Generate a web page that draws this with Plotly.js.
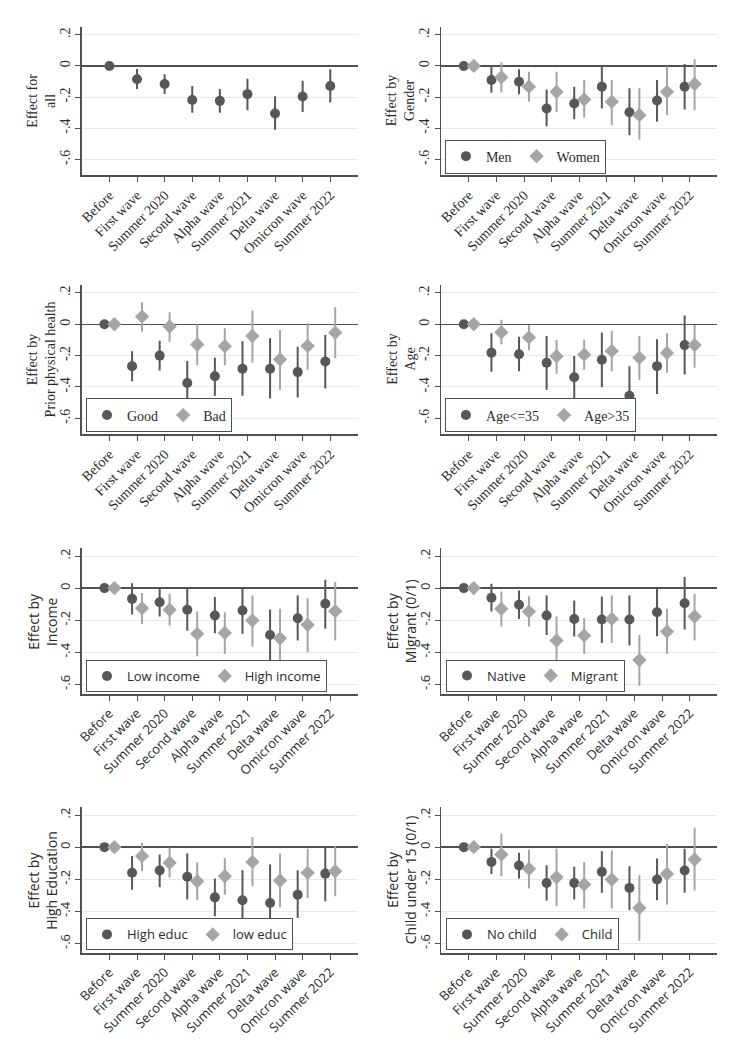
<!DOCTYPE html>
<html>
<head>
<meta charset="utf-8">
<script src="https://cdn.plot.ly/plotly-3.0.1.min.js"></script>
<style>
  html, body { margin: 0; padding: 0; background: #fff; }
  #chart { width: 744px; height: 1062px; }
</style>
</head>
<body>
<div id="chart"></div>
<script>
// categories and tick labels
const waves = ["Before", "First wave", "Summer 2020", "Second wave", "Alpha wave",
  "Summer 2021", "Delta wave", "Omicron wave", "Summer 2022"];
const yTickVals = [0.2, 0, -0.2, -0.4, -0.6];
const yTickText = [".2", "0", "-.2", "-.4", "-.6"];

// Effect for all
const allEst = [0, -0.086, -0.116, -0.219, -0.224, -0.181, -0.305, -0.196, -0.129];
const allLo  = [0, -0.148, -0.180, -0.301, -0.301, -0.284, -0.409, -0.295, -0.234];
const allHi  = [0, -0.020, -0.054, -0.129, -0.148, -0.082, -0.194, -0.095, -0.022];

// Gender
const menEst   = [0, -0.090, -0.101, -0.273, -0.241, -0.133, -0.297, -0.222, -0.133];
const menLo    = [0, -0.172, -0.181, -0.387, -0.342, -0.273, -0.445, -0.359, -0.280];
const menHi    = [0, 0.000, -0.022, -0.151, -0.133, 0.006, -0.144, -0.090, 0.013];
const womenEst = [0, -0.073, -0.133, -0.166, -0.215, -0.230, -0.316, -0.166, -0.116];
const womenLo  = [0, -0.170, -0.230, -0.295, -0.333, -0.381, -0.473, -0.316, -0.284];
const womenHi  = [0, 0.024, -0.037, -0.037, -0.090, -0.090, -0.144, -0.004, 0.043];

// Prior physical health
const goodEst = [0, -0.267, -0.200, -0.374, -0.331, -0.284, -0.284, -0.305, -0.237];
const goodLo  = [0, -0.363, -0.295, -0.510, -0.456, -0.456, -0.473, -0.467, -0.409];
const goodHi  = [0, -0.172, -0.105, -0.234, -0.213, -0.108, -0.090, -0.144, -0.069];
const badEst  = [0, 0.049, -0.015, -0.129, -0.140, -0.075, -0.224, -0.138, -0.054];
const badLo   = [0, -0.047, -0.112, -0.262, -0.262, -0.245, -0.417, -0.290, -0.215];
const badHi   = [0, 0.140, 0.077, 0.000, -0.026, 0.088, -0.037, 0.006, 0.110];

// Age
const youngEst = [0, -0.181, -0.191, -0.245, -0.338, -0.226, -0.456, -0.267, -0.133];
const youngLo  = [0, -0.303, -0.299, -0.417, -0.477, -0.402, -0.650, -0.445, -0.320];
const youngHi  = [0, -0.058, -0.080, -0.075, -0.202, -0.052, -0.267, -0.095, 0.056];
const oldEst   = [0, -0.052, -0.084, -0.204, -0.194, -0.170, -0.213, -0.183, -0.133];
const oldLo    = [0, -0.127, -0.166, -0.316, -0.290, -0.299, -0.355, -0.310, -0.277];
const oldHi    = [0, 0.028, -0.004, -0.101, -0.097, -0.041, -0.075, -0.058, -0.004];

// Income
const lowIncEst  = [0, -0.067, -0.088, -0.135, -0.171, -0.140, -0.292, -0.188, -0.098];
const lowIncLo   = [0, -0.165, -0.177, -0.265, -0.281, -0.285, -0.452, -0.327, -0.254];
const lowIncHi   = [0, 0.031, 0.006, -0.004, -0.056, 0.006, -0.133, -0.046, 0.052];
const highIncEst = [0, -0.125, -0.135, -0.285, -0.279, -0.202, -0.313, -0.229, -0.144];
const highIncLo  = [0, -0.223, -0.233, -0.425, -0.410, -0.365, -0.494, -0.400, -0.327];
const highIncHi  = [0, -0.031, -0.035, -0.146, -0.150, -0.046, -0.129, -0.063, 0.038];

// Migrant
const nativeEst  = [0, -0.060, -0.104, -0.171, -0.192, -0.196, -0.196, -0.150, -0.094];
const nativeLo   = [0, -0.146, -0.192, -0.292, -0.302, -0.342, -0.358, -0.300, -0.258];
const nativeHi   = [0, 0.027, -0.015, -0.046, -0.077, -0.052, -0.046, 0.000, 0.069];
const migrantEst = [0, -0.129, -0.146, -0.327, -0.296, -0.192, -0.448, -0.271, -0.177];
const migrantLo  = [0, -0.240, -0.240, -0.480, -0.410, -0.342, -0.608, -0.410, -0.327];
const migrantHi  = [0, -0.021, -0.050, -0.177, -0.188, -0.046, -0.290, -0.129, -0.035];

// High education
const hiEducEst = [0, -0.160, -0.146, -0.185, -0.313, -0.331, -0.348, -0.296, -0.165];
const hiEducLo  = [0, -0.265, -0.250, -0.327, -0.431, -0.520, -0.590, -0.442, -0.338];
const hiEducHi  = [0, -0.056, -0.046, -0.040, -0.196, -0.144, -0.108, -0.144, 0.006];
const loEducEst = [0, -0.056, -0.098, -0.213, -0.181, -0.092, -0.208, -0.160, -0.150];
const loEducLo  = [0, -0.150, -0.190, -0.331, -0.296, -0.244, -0.375, -0.317, -0.306];
const loEducHi  = [0, 0.027, -0.004, -0.094, -0.067, 0.063, -0.042, -0.010, 0.006];

// Child under 15
const noChildEst = [0, -0.092, -0.115, -0.223, -0.223, -0.154, -0.254, -0.202, -0.146];
const noChildLo  = [0, -0.167, -0.196, -0.333, -0.327, -0.285, -0.394, -0.331, -0.285];
const noChildHi  = [0, -0.010, -0.035, -0.113, -0.123, -0.025, -0.119, -0.071, -0.010];
const childEst   = [0, -0.046, -0.135, -0.188, -0.233, -0.202, -0.379, -0.167, -0.077];
const childLo    = [0, -0.181, -0.258, -0.369, -0.383, -0.383, -0.583, -0.358, -0.271];
const childHi    = [0, 0.083, -0.015, -0.010, -0.092, -0.021, -0.175, 0.021, 0.121];

const DARK = '#575757', LIGHT = '#a5a5a5', AXIS = '#505050', TEXT = '#2a2a2a';
const SERIF = 'Liberation Serif, Times New Roman, serif';
const SANS = 'Open Sans, Segoe UI, sans-serif';

// leg = [x, y centre] in paper units
const panels = [
  { title: 'Effect for<br>all', font: SERIF,
    groups: [{ name: 'All', est: allEst, lo: allLo, hi: allHi }] },
  { title: 'Effect by<br>Gender', font: SERIF, leg: [0.598, 0.8526],
    groups: [{ name: 'Men', est: menEst, lo: menLo, hi: menHi },
             { name: 'Women', est: womenEst, lo: womenLo, hi: womenHi }] },
  { title: 'Effect by<br>Prior physical health', font: SERIF, leg: [0.1156, 0.6088],
    groups: [{ name: 'Good', est: goodEst, lo: goodLo, hi: goodHi },
             { name: 'Bad', est: badEst, lo: badLo, hi: badHi }] },
  { title: 'Effect by<br>Age', font: SERIF, leg: [0.598, 0.6088],
    groups: [{ name: 'Age<=35', est: youngEst, lo: youngLo, hi: youngHi },
             { name: 'Age>35', est: oldEst, lo: oldLo, hi: oldHi }] },
  { title: 'Effect by<br>Income', font: SANS, leg: [0.1156, 0.3635],
    groups: [{ name: 'Low income', est: lowIncEst, lo: lowIncLo, hi: lowIncHi },
             { name: 'High income', est: highIncEst, lo: highIncLo, hi: highIncHi }] },
  { title: 'Effect by<br>Migrant (0/1)', font: SANS, leg: [0.5995, 0.3639],
    groups: [{ name: 'Native', est: nativeEst, lo: nativeLo, hi: nativeHi },
             { name: 'Migrant', est: migrantEst, lo: migrantLo, hi: migrantHi }] },
  { title: 'Effect by<br>High Education', font: SANS, leg: [0.1156, 0.1201],
    groups: [{ name: 'High educ', est: hiEducEst, lo: hiEducLo, hi: hiEducHi },
             { name: 'low educ', est: loEducEst, lo: loEducLo, hi: loEducHi }] },
  { title: 'Effect by<br>Child under 15 (0/1)', font: SANS, leg: [0.5995, 0.1201],
    groups: [{ name: 'No child', est: noChildEst, lo: noChildLo, hi: noChildHi },
             { name: 'Child', est: childEst, lo: childLo, hi: childHi }] }
];

const colX = [[0.110, 0.481], [0.593, 0.964]];
const rowY = [[0.8352, 0.9746], [0.5913, 0.7316], [0.3465, 0.4840], [0.1026, 0.2401]];

const traces = [];
const annotations = [];
const layout = {
  width: 744, height: 1062,
  margin: { l: 0, r: 0, t: 0, b: 0 },
  paper_bgcolor: '#fff', plot_bgcolor: '#fff',
  scattermode: 'group', scattergap: 0.28,
  showlegend: true,
  annotations: annotations
};

panels.forEach((p, k) => {
  const s = k === 0 ? '' : String(k + 1);
  const legId = k === 1 ? 'legend' : 'legend' + k;
  const top = k < 4;
  const fs = top ? 14 : 13;

  p.groups.forEach((g, j) => {
    const col = j === 0 ? DARK : LIGHT;
    traces.push({
      type: 'scatter', mode: 'markers',
      x: waves, y: g.est, name: g.name,
      xaxis: 'x' + s, yaxis: 'y' + s,
      offsetgroup: String(j),
      showlegend: !!p.leg,
      legend: legId,
      marker: { symbol: j === 0 ? 'circle' : 'diamond', size: j === 0 ? 10 : 11, color: col },
      error_y: {
        type: 'data', symmetric: false,
        array: g.hi.map((v, i) => v - g.est[i]),
        arrayminus: g.est.map((v, i) => v - g.lo[i]),
        width: 0, thickness: 2, color: col
      }
    });
  });

  const r = Math.floor(k / 2), c = k % 2;
  layout['xaxis' + s] = {
    domain: colX[c], anchor: 'y' + s,
    type: 'category', range: [-1, 9],
    tickangle: -45, ticks: 'outside', ticklen: 5, tickcolor: AXIS,
    showline: true, linecolor: AXIS, linewidth: 1.5,
    showgrid: false, zeroline: false,
    tickfont: { family: p.font, size: fs, color: TEXT }
  };
  layout['yaxis' + s] = {
    domain: rowY[r], anchor: 'x' + s,
    range: top ? [-0.7, 0.25] : [-0.66, 0.25],
    tickvals: yTickVals, ticktext: yTickText,
    tickangle: -90, ticks: 'outside', ticklen: 5, tickcolor: AXIS,
    showline: true, linecolor: AXIS, linewidth: 1.5,
    showgrid: true, gridcolor: '#e8e8e8', gridwidth: 1,
    zeroline: true, zerolinecolor: AXIS, zerolinewidth: 1.5,
    tickfont: { family: p.font, size: fs, color: TEXT }
  };

  // y-axis title, two lines, set beside the tick labels
  annotations.push({
    xref: 'paper', yref: 'paper',
    x: colX[c][0] - 40 / 744, y: (rowY[r][0] + rowY[r][1]) / 2,
    xanchor: 'center', yanchor: 'middle',
    text: p.title, textangle: -90, showarrow: false,
    font: { family: p.font, size: 14, color: TEXT }
  });

  if (p.leg) {
    layout[legId] = {
      x: p.leg[0], y: p.leg[1], xanchor: 'left', yanchor: 'middle',
      orientation: 'h',
      bgcolor: '#fff', bordercolor: AXIS, borderwidth: 1,
      font: { family: p.font, size: top ? 14 : 13, color: TEXT },
      itemwidth: 30
    };
  }
});

Plotly.newPlot('chart', traces, layout, { staticPlot: true });
</script>
</body>
</html>
